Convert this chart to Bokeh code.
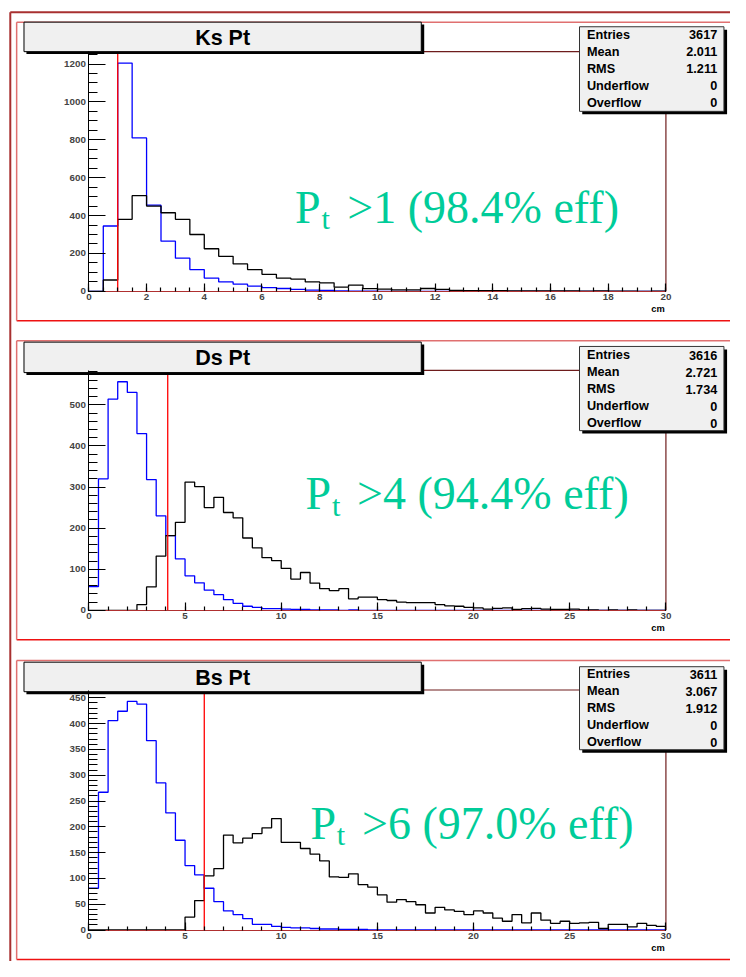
import numpy as np
from bokeh.plotting import figure
from bokeh.models import Range1d, LinearAxis, SingleIntervalTicker
from bokeh.embed import file_html
from bokeh.resources import INLINE
from bokeh.core.properties import value

# ---------------- data (bin width 0.5, counts) -------------
BIN_WIDTH = 0.5

ks_blue = [0, 345, 1205, 810, 455, 265, 175, 115, 70, 50,
           38, 28, 20, 15, 10, 7, 5, 2, 1, 1,
           0, 0, 0, 0, 0, 0, 0, 0, 0, 0,
           0, 0, 0, 0, 0, 0, 0, 0, 0, 0]
ks_black = [0, 60, 380, 505, 450, 415, 380, 300, 225, 185,
            145, 115, 90, 70, 65, 50, 45, 22, 33, 14,
            12, 8, 8, 15, 10, 5, 4, 4, 4, 3,
            3, 3, 2, 2, 1, 2, 1, 1, 0, 1]

ds_blue = [58, 320, 514, 556, 530, 430, 318, 230, 182, 125,
           84, 67, 49, 38, 26, 17, 10, 7, 4, 4,
           3, 2, 2, 1, 1, 1, 0, 1, 0, 0,
           0, 0, 0, 0, 0, 0, 0, 0, 0, 0,
           0, 0, 0, 0, 0, 0, 0, 0, 0, 0,
           0, 0, 0, 0, 0, 0, 0, 0, 0, 0]
ds_black = [0, 0, 0, 0, 0, 14, 57, 132, 182, 214,
            312, 301, 250, 275, 238, 225, 176, 152, 128, 121,
            102, 76, 92, 66, 53, 48, 53, 28, 32, 32,
            26, 24, 20, 19, 19, 19, 14, 11, 10, 7,
            6, 3, 5, 6, 2, 4, 5, 3, 2, 2,
            3, 1, 1, 0, 1, 0, 1, 0, 0, 0]

bs_blue = [81, 267, 406, 424, 443, 438, 367, 285, 227, 174,
           125, 107, 81, 55, 37, 30, 22, 11, 11, 7,
           5, 4, 4, 3, 2, 2, 1, 1, 1, 0,
           0, 0, 0, 0, 0, 0, 0, 0, 0, 0,
           0, 0, 0, 0, 0, 0, 0, 0, 0, 0,
           0, 0, 0, 0, 0, 0, 0, 0, 0, 0]
bs_black = [0, 0, 0, 0, 0, 0, 0, 0, 0, 0,
            25, 57, 105, 119, 184, 169, 178, 187, 198, 216,
            170, 170, 158, 147, 134, 103, 102, 109, 88, 83,
            68, 54, 59, 55, 49, 33, 44, 39, 36, 30,
            37, 33, 23, 17, 30, 14, 33, 19, 13, 17,
            13, 14, 15, 3, 11, 11, 6, 13, 9, 7]

stat_names = ["Entries", "Mean", "RMS", "Underflow", "Overflow"]
ks_stats = ["3617", "2.011", "1.211", "0", "0"]
ds_stats = ["3616", "2.721", "1.734", "0", "0"]
bs_stats = ["3611", "3.067", "1.912", "0", "0"]

titles = ["Ks Pt", "Ds Pt", "Bs Pt"]
cuts = [1.0, 4.1, 6.0]
cut_texts = [">1 (98.4% eff)", ">4 (94.4% eff)", ">6 (97.0% eff)"]
x_maxes = [20, 30, 30]
x_tick_steps = [2, 5, 5]
x_minor = [4, 5, 5]
y_tick_steps = [200, 100, 50]
y_minor = [4, 5, 5]
x_unit = "cm"

# ---------------- layout (reference-page pixel coordinates) ----------------------
W, H = 730, 961            # figure size
PW, PH = 746, 977          # reference page size mapped onto the figure
FS = W / PW                # font scale
FX0, FX1 = 90.3, 680.0
frames = [(52.0, 295.7), (376.0, 620.0), (701.0, 945.0)]
title_boxes = [(22.0, 52.0), (347.3, 378.3), (672.7, 702.7)]
stats_boxes = [(26.7, 112.7), (351.7, 437.3), (677.3, 761.7)]
stat_row0 = [35.0, 360.7, 685.0]
panel_rects = [(22.0, 325.5), (346.0, 650.0), (671.0, 975.0)]
green_px = [301.0, 311.7, 316.7]
green_base = [210.0, 501.7, 836.7]
green_end = [632.0, 642.0, 647.0]

GREEN = "#00CC99"
FRAME_COL = "#6e1c1c"
FONT = "Liberation Sans"
SERIF = "Liberation Serif"


def px(v):
    return f"{v * FS:.1f}px"


p = figure(width=W, height=H, x_range=Range1d(0, PW), y_range=Range1d(PH, 0),
           output_backend="svg", toolbar_location=None,
           x_axis_type=None, y_axis_type=None, min_border=0)
p.outline_line_color = None
p.background_fill_color = "white"

# outer slide frame
p.segment(x0=[10], y0=[12], x1=[PW], y1=[12], line_color="#a83030", line_width=2)
p.segment(x0=[10], y0=[12], x1=[10], y1=[PH], line_color="#a83030", line_width=2)

hists = [(ks_blue, ks_black), (ds_blue, ds_black), (bs_blue, bs_black)]
stats = [ks_stats, ds_stats, bs_stats]

for i in range(3):
    blue, black = hists[i]
    xmax = x_maxes[i]
    ymax = 1.05 * max(max(blue), max(black))
    ftop, fbot = frames[i]

    # panel border
    ptop, pbot = panel_rects[i]
    p.segment(x0=[16.5, 16.5, 16.5], y0=[ptop, pbot, ptop],
              x1=[PW, PW, 16.5], y1=[ptop, pbot, pbot],
              line_color=["#e07070", "#ee1111", "#e07070"], line_width=1.5)

    # data ranges mapped onto the frame area
    sx = (FX1 - FX0) / xmax
    sy = (fbot - ftop) / ymax
    xn, yn = f"x{i}", f"y{i}"
    p.extra_x_ranges[xn] = Range1d(-FX0 / sx, xmax + (PW - FX1) / sx)
    p.extra_y_ranges[yn] = Range1d(-(PH - fbot) / sy, ymax + ftop / sy)

    # frame top / right lines
    p.segment(x0=[FX0, FX1], y0=[ftop, ftop], x1=[FX1, FX1], y1=[ftop, fbot],
              line_color=FRAME_COL, line_width=1.2)

    edges = np.arange(len(blue) + 1) * BIN_WIDTH
    p.step(x=edges, y=np.append(blue, blue[-1]), mode="after",
           line_color="#0000ff", line_width=1.3, x_range_name=xn, y_range_name=yn)
    p.step(x=edges, y=np.append(black, black[-1]), mode="after",
           line_color="#000000", line_width=1.3, x_range_name=xn, y_range_name=yn)
    p.segment(x0=[cuts[i]], y0=[0], x1=[cuts[i]], y1=[ymax], line_color="#ff0000",
              line_width=1.3, x_range_name=xn, y_range_name=yn)

    xa = LinearAxis(x_range_name=xn, y_range_name=yn, fixed_location=0,
                    bounds=(0, xmax),
                    ticker=SingleIntervalTicker(interval=x_tick_steps[i],
                                                num_minor_ticks=x_minor[i]))
    xa.major_tick_in = 8
    xa.major_tick_out = 0
    xa.minor_tick_in = 4
    xa.minor_tick_out = 0
    xa.axis_line_color = "#b03030"
    xa.major_label_standoff = 3
    ya = LinearAxis(x_range_name=xn, y_range_name=yn, fixed_location=0,
                    bounds=(0, ymax),
                    ticker=SingleIntervalTicker(interval=y_tick_steps[i],
                                                num_minor_ticks=y_minor[i]))
    ya.major_tick_in = 17
    ya.major_tick_out = 0
    ya.minor_tick_in = 9
    ya.minor_tick_out = 0
    ya.major_label_standoff = 3
    for ax in (xa, ya):
        ax.major_label_text_font = FONT
        ax.major_label_text_font_style = "bold"
        ax.major_label_text_font_size = px(10)
        ax.major_tick_line_color = "black"
        ax.minor_tick_line_color = "black"
        ax.major_tick_line_width = 1.2
        ax.minor_tick_line_width = 1.2
    p.add_layout(xa, "below")
    p.add_layout(ya, "left")

    p.text(x=[FX1 - 8], y=[fbot + 18], text=[x_unit], text_font=value(FONT),
           text_font_style="bold", text_font_size=px(9.5), text_align="center",
           text_baseline="middle", text_color="black")

    # title box with shadow
    tt, tb = title_boxes[i]
    p.quad(left=[26.5], right=[433], top=[tt + 2.5], bottom=[tb + 2.5],
           fill_color="black", line_color=None)
    p.quad(left=[24], right=[430], top=[tt], bottom=[tb],
           fill_color="#f0f0f0", line_color="black", line_width=1)
    p.text(x=[227], y=[(tt + tb) / 2 + 1], text=[titles[i]], text_font=value(FONT),
           text_font_style="bold", text_font_size=px(22), text_align="center",
           text_baseline="middle", text_color="black")

    # stats box with shadow
    st, sb = stats_boxes[i]
    p.quad(left=[594.5], right=[742.5], top=[st + 3], bottom=[sb + 3],
           fill_color="black", line_color=None)
    p.quad(left=[591.7], right=[739.3], top=[st], bottom=[sb],
           fill_color="#f0f0f0", line_color="#333333", line_width=1)
    rows = [stat_row0[i] + 17.3 * k for k in range(len(stat_names))]
    p.text(x=[599.3] * len(rows), y=rows, text=stat_names, text_font=value(FONT),
           text_font_style="bold", text_font_size=px(13), text_align="left",
           text_baseline="middle", text_color="black")
    p.text(x=[732.5] * len(rows), y=rows, text=stats[i], text_font=value(FONT),
           text_font_style="bold", text_font_size=px(13), text_align="right",
           text_baseline="middle", text_color="black")

    # efficiency annotation
    gx, gb = green_px[i], green_base[i]
    p.text(x=[gx], y=[gb], text=["P"], text_font=value(SERIF),
           text_font_size=px(47), text_align="left", text_baseline="alphabetic",
           text_color=GREEN)
    p.text(x=[gx + 27], y=[gb + 12], text=["t"], text_font=value(SERIF),
           text_font_size=px(31), text_align="left", text_baseline="alphabetic",
           text_color=GREEN)
    p.text(x=[green_end[i]], y=[gb], text=[cut_texts[i]], text_font=value(SERIF),
           text_font_size=px(47), text_align="right", text_baseline="alphabetic",
           text_color=GREEN)

open("out.html", "w").write(file_html(p, INLINE))
